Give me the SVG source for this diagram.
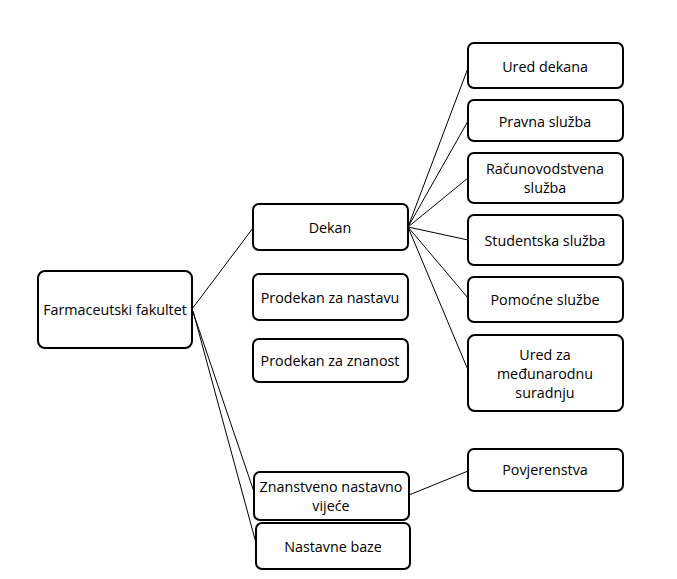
<svg xmlns="http://www.w3.org/2000/svg" width="677" height="579" viewBox="0 0 677 579">
<style>
.box{fill:#fff;stroke:#000;stroke-width:2}
.t{font-family:"Open Sans","Noto Sans",sans-serif;font-size:14.3px;fill:#000;text-anchor:middle;dominant-baseline:central}
.c{stroke:#000;stroke-width:1;fill:none}
</style>
<rect width="677" height="579" fill="#fff"/>
<g id="connectors">
<line class="c" x1="192" y1="309" x2="253" y2="228"/>
<line class="c" x1="192" y1="309" x2="254" y2="492"/>
<line class="c" x1="193" y1="311" x2="256" y2="543"/>
<line class="c" x1="408" y1="227" x2="468" y2="68"/>
<line class="c" x1="408" y1="227" x2="468" y2="121"/>
<line class="c" x1="408" y1="227" x2="468" y2="178"/>
<line class="c" x1="408" y1="227" x2="468" y2="240"/>
<line class="c" x1="408" y1="227" x2="468" y2="298"/>
<line class="c" x1="408" y1="227" x2="468" y2="370"/>
<line class="c" x1="409" y1="495" x2="468" y2="471"/>
</g>
<g id="farmaceutski-fakultet"><rect class="box" x="38" y="271" width="154" height="77" rx="7"/><text class="t" x="115" y="309">Farmaceutski fakultet</text></g>
<g id="dekan"><rect class="box" x="253" y="204" width="155" height="46" rx="6"/><text class="t" x="330" y="227">Dekan</text></g>
<g id="prodekan-nastava"><rect class="box" x="253" y="274" width="155" height="46" rx="6"/><text class="t" x="330" y="297">Prodekan za nastavu</text></g>
<g id="prodekan-znanost"><rect class="box" x="253" y="339" width="155" height="43" rx="6"/><text class="t" x="330" y="360">Prodekan za znanost</text></g>
<g id="znanstveno-vijece"><rect class="box" x="254" y="472" width="155" height="48" rx="6"/><text class="t" x="331" y="486">Znanstveno nastavno</text><text class="t" x="331" y="505">vijeće</text></g>
<g id="nastavne-baze"><rect class="box" x="256" y="523" width="154" height="46" rx="6"/><text class="t" x="333" y="546">Nastavne baze</text></g>
<g id="ured-dekana"><rect class="box" x="468" y="43" width="155" height="45" rx="6"/><text class="t" x="545" y="66">Ured dekana</text></g>
<g id="pravna-sluzba"><rect class="box" x="468" y="100" width="155" height="41" rx="6"/><text class="t" x="545" y="121">Pravna služba</text></g>
<g id="racunovodstvena-sluzba"><rect class="box" x="468" y="153" width="155" height="50" rx="6"/><text class="t" x="545" y="168">Računovodstvena</text><text class="t" x="545" y="187">služba</text></g>
<g id="studentska-sluzba"><rect class="box" x="468" y="215" width="155" height="50" rx="6"/><text class="t" x="545" y="240">Studentska služba</text></g>
<g id="pomocne-sluzbe"><rect class="box" x="468" y="277" width="155" height="45" rx="6"/><text class="t" x="545" y="299">Pomoćne službe</text></g>
<g id="ured-medjunarodna"><rect class="box" x="468" y="335" width="155" height="76" rx="7"/><text class="t" x="545" y="354">Ured za</text><text class="t" x="545" y="373">međunarodnu</text><text class="t" x="545" y="392">suradnju</text></g>
<g id="povjerenstva"><rect class="box" x="468" y="449" width="155" height="42" rx="6"/><text class="t" x="545" y="469">Povjerenstva</text></g>
</svg>
